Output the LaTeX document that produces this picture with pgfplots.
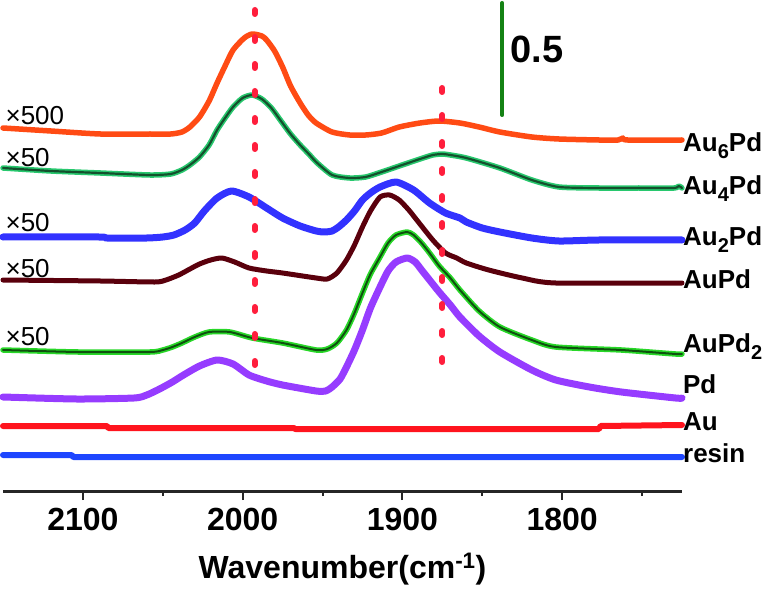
\documentclass[border=0pt]{standalone}
\usepackage{fontspec}
\setmainfont{Liberation Sans}
\usepackage{pgfplots}
\usepackage{pgfplotstable}
\pgfplotsset{compat=1.18}
\definecolor{cAuSix}{RGB}{255,75,20}
\definecolor{cAuFourHalo}{RGB}{40,200,110}
\definecolor{cAuFourCore}{RGB}{20,80,45}
\definecolor{cAuTwo}{RGB}{50,50,255}
\definecolor{cAuPd}{RGB}{90,0,12}
\definecolor{cAuPdTwoHalo}{RGB}{40,215,40}
\definecolor{cAuPdTwoCore}{RGB}{15,80,15}
\definecolor{cPd}{RGB}{150,60,255}
\definecolor{cAu}{RGB}{255,20,30}
\definecolor{cResin}{RGB}{30,70,255}
\definecolor{cDot}{RGB}{255,30,60}
\definecolor{cBar}{RGB}{20,130,20}
\newcommand\sub[1]{\raisebox{-7pt}{\fontsize{20}{20}\selectfont #1}}

\pgfplotstableread{
x y
2150 363
2120 360
2089 357
2058 357
2045 357
2038 359
2033 364
2027 374
2021 390
2016 408
2011 425
2006 441
1999 453
1994 457
1988 455
1985 451
1980 440
1975 424
1970 405
1964 388
1959 376
1954 368
1944 359
1933 356
1923 356
1913 358
1902 364
1889 368
1877 370
1864 368
1852 364
1839 359
1819 354
1802 352
1777 351
1765 351
1762 353
1759 351
1725 351
}\tAuSix

\pgfplotstableread{
x y
2150 323
2120 320
2089 318
2058 316
2045 317
2038 321
2033 326
2027 334
2021 346
2016 361
2011 373
2006 384
2000 393
1994 396
1988 392
1982 383
1976 370
1970 357
1964 346
1958 336
1954 329
1944 316
1933 313
1923 314
1913 319
1902 325
1889 332
1881 336
1875 337
1870 336
1860 333
1839 323
1819 311
1802 304
1777 303
1752 303
1730 303
1727 305
1725 303
}\tAuFour

\pgfplotstableread{
x y
2150 254
2090 254
2085 253
2060 253
2050 254
2043 256
2036 261
2030 268
2024 280
2016 293
2007 300
1996 294
1985 283
1975 273
1964 265
1954 260
1949 259
1944 260
1940 264
1935 271
1930 280
1925 291
1920 298
1914 304
1904 309
1893 301
1883 288
1873 278
1864 273
1860 269
1850 263
1839 259
1819 253
1802 250
1777 251
1725 251
}\tAuTwo

\pgfplotstableread{
x y
2150 211
2089 210
2055 209
2048 211
2040 216
2033 222
2027 227
2020 231
2013 233
2005 229
1996 223
1985 220
1975 218
1954 213
1947 212
1941 218
1935 231
1930 246
1925 264
1920 280
1914 294
1908 296
1902 291
1896 281
1891 271
1881 251
1873 238
1866 233
1860 228
1846 221
1825 213
1804 208
1725 208
}\tAuPd

\pgfplotstableread{
x y
2150 141
2103 139
2058 139
2050 141
2044 144
2038 148
2030 154
2021 159
2008 159
1994 153
1975 148
1954 141
1947 142
1941 148
1935 161
1930 178
1925 198
1920 217
1914 234
1909 248
1904 256
1897 259
1893 256
1888 248
1883 238
1877 225
1870 213
1864 201
1852 180
1839 164
1819 151
1804 144
1763 141
1729 137
1725 137
}\tAuPdTwo

\pgfplotstableread{
x y
2150 94
2104 92
2068 93
2060 96
2052 102
2044 109
2037 116
2027 125
2016 131
2006 127
1996 116
1985 110
1975 106
1954 100
1948 100
1944 104
1939 112
1935 124
1930 141
1925 161
1920 183
1914 204
1909 220
1904 229
1897 233
1892 229
1888 221
1883 211
1877 199
1870 186
1864 174
1852 155
1839 139
1819 121
1804 111
1783 104
1763 99
1729 93
1725 93
}\tPd

\pgfplotstableread{
x y
2150 65
2085 65
2084 63
1968 63
1967 62
1777 62
1776 65
1725 66
}\tAu

\pgfplotstableread{
x y
2150 36
2107 36
2106 34
1725 34
}\tResin

\begin{document}
\begin{tikzpicture}
\useasboundingbox (0,0) rectangle (779pt,590pt);
\begin{axis}[
  at={(3pt,99pt)}, anchor=south west,
  scale only axis, width=679pt, height=491pt,
  xmin=1725, xmax=2150, ymin=0, ymax=491,
  x dir=reverse,
  axis x line=bottom, axis y line=none,
  axis line style={-, line width=3pt, color=black!85},
  xtick={2100,2000,1900,1800},
  xticklabels={2100,2000,1900,1800},
  minor xtick={2050,1950,1850,1750},
  xtick align=outside,
  major tick length=9pt, minor tick length=5pt,
  every tick/.style={line width=2pt, color=black!85},
  xticklabel style={font=\fontsize{32}{32}\selectfont\bfseries, anchor=base, yshift=-30pt},
  xlabel={Wavenumber(cm\textsuperscript{-1})},
  xlabel style={font=\fontsize{32}{32}\selectfont\bfseries, at={(axis description cs:0.5,0)}, anchor=base, yshift=-87pt},
  clip=false,
  every axis plot/.append style={line join=round, line cap=round},
]
% resin, Au
\addplot[cResin, line width=6pt] table {\tResin};
\addplot[cAu, line width=6pt] table {\tAu};
% Pd
\addplot[cPd, line width=7pt, smooth, tension=0.4] table {\tPd};
% AuPd2
\addplot[cAuPdTwoHalo, line width=5.5pt, smooth, tension=0.4] table {\tAuPdTwo};
\addplot[cAuPdTwoCore, line width=2pt, smooth, tension=0.4] table {\tAuPdTwo};
% AuPd
\addplot[cAuPd, line width=5pt, smooth, tension=0.4] table {\tAuPd};
% Au2Pd
\addplot[cAuTwo, line width=7pt, smooth, tension=0.4] table {\tAuTwo};
% Au4Pd
\addplot[cAuFourHalo, line width=5.5pt, smooth, tension=0.4] table {\tAuFour};
\addplot[cAuFourCore, line width=2.2pt, smooth, tension=0.4] table {\tAuFour};
% Au6Pd
\addplot[cAuSix, line width=5.5pt, smooth, tension=0.4] table {\tAuSix};
% dotted guide lines
\addplot[cDot, line width=6pt, line cap=round, dash pattern=on 4pt off 23pt] coordinates {(1992.5,481) (1992.5,104)};
\addplot[cDot, line width=6pt, line cap=round, dash pattern=on 4pt off 23pt] coordinates {(1875,403) (1875,107)};
% scale bar
\addplot[cBar, line width=4pt, line cap=round] coordinates {(1837.5,488) (1837.5,376)};
\node[anchor=base west, inner sep=0pt, font=\fontsize{38}{38}\selectfont\bfseries] at (axis cs:1832.5,428) {0.5};
% multipliers
\begin{scope}[every node/.style={anchor=base west, inner sep=0pt, font=\fontsize{26}{26}\selectfont}]
\node at (axis cs:2148.5,366) {×500};
\node at (axis cs:2148.5,324) {×50};
\node at (axis cs:2148.5,259) {×50};
\node at (axis cs:2148.5,214) {×50};
\node at (axis cs:2148.5,146) {×50};
\end{scope}
% sample labels
\begin{scope}[every node/.style={anchor=base west, inner sep=0pt, font=\fontsize{26}{26}\selectfont\bfseries}]
\node at (axis cs:1724.4,339) {Au\sub{6}Pd};
\node at (axis cs:1724.4,296) {Au\sub{4}Pd};
\node at (axis cs:1724.4,246) {Au\sub{2}Pd};
\node at (axis cs:1724.4,203) {AuPd};
\node at (axis cs:1724.4,139) {AuPd\sub{2}};
\node at (axis cs:1724.4,98) {Pd};
\node at (axis cs:1724.4,61) {Au};
\node at (axis cs:1724.4,29) {resin};
\end{scope}
\end{axis}
\end{tikzpicture}
\end{document}
